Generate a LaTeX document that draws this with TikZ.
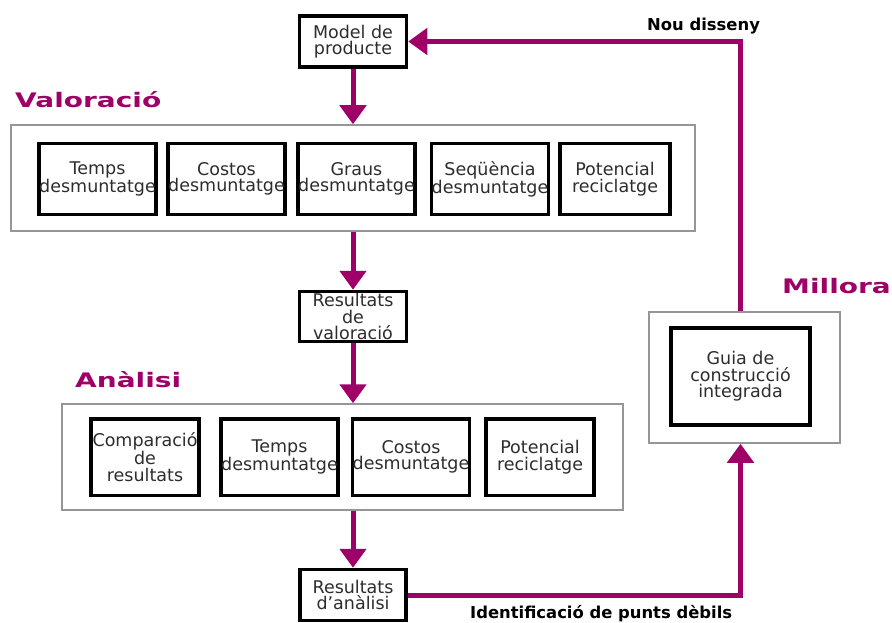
\documentclass[tikz,border=0pt]{standalone}
\usepackage{fontspec}
\setmainfont{DejaVu Sans}
\newfontfamily\headfont[FakeStretch=1.4]{DejaVu Sans Bold}
\usetikzlibrary{arrows.meta}
\definecolor{fucsia}{RGB}{158,0,104}
\definecolor{boxgray}{RGB}{150,150,150}
\definecolor{txtgray}{RGB}{45,45,45}
\tikzset{
  stepbox/.style={draw=black,line width=3.5pt,fill=white,align=center,text=txtgray,
    font=\fontsize{17.5}{16.5}\selectfont,inner sep=0pt},
  groupbox/.style={draw=boxgray,line width=1.5pt,inner sep=0pt},
  flow/.style={draw=fucsia,line width=5pt,-{Triangle[width=26pt,length=19pt]}},
  phase/.style={text=fucsia,font=\headfont\fontsize{20}{20}\selectfont,anchor=base west,inner sep=0pt},
  note/.style={font=\bfseries\fontsize{16.4}{16.4}\selectfont,anchor=base west,inner sep=0pt}
}
\begin{document}
\begin{tikzpicture}[x=1pt,y=-1pt]
\useasboundingbox (0,0) rectangle (892,623);
\node[groupbox,minimum width=684pt,minimum height=106pt] (valbox) at (353,178) {};
\node[groupbox,minimum width=561pt,minimum height=106pt] (anbox) at (342.5,457) {};
\node[groupbox,minimum width=191pt,minimum height=131pt] (millbox) at (744.5,377.5) {};
\node[phase] (valtitle) at (15,108) {Valoració};
\node[phase] (antitle) at (75,387) {Anàlisi};
\node[phase] (milltitle) at (782,293) {Millora};
\node[note] (nou) at (647,31) {Nou disseny};
\node[note] (ident) at (470,618) {Identificació de punts dèbils};
\node[stepbox,minimum width=107pt,minimum height=51pt] (model) at (353,41.5) {Model de\\producte};
\node[stepbox,minimum width=107pt,minimum height=50pt] (resval) at (353,316.5) {Resultats\\de\\valoració};
\node[stepbox,minimum width=106pt,minimum height=51pt] (resan) at (353,595) {Resultats\\d'anàlisi};
\node[stepbox,minimum width=139pt,minimum height=97pt] (guia) at (740.5,376.5) {Guia de\\construcció\\integrada};
\foreach \x/\w/\n/\t in {97.5/111/vtemps/{Temps\\desmuntatge},226.5/113/vcostos/{Costos\\desmuntatge},
    356.5/115/vgraus/{Graus\\desmuntatge},490/112/vseq/{Seqüència\\desmuntatge},615/110/vpot/{Potencial\\reciclatge}}
  \node[stepbox,minimum width=\w pt,minimum height=70.5pt] (\n) at (\x,179) {\t};
\foreach \x/\w/\n/\t in {145/108/acomp/{Comparació\\de\\resultats},279.5/117/atemps/{Temps\\desmuntatge},
    411/114/acostos/{Costos\\desmuntatge},540/108/apot/{Potencial\\reciclatge}}
  \node[stepbox,minimum width=\w pt,minimum height=76.5pt] (\n) at (\x,457) {\t};
\draw[flow] (model) -- (valbox);
\draw[flow] (valbox) -- (resval);
\draw[flow] (resval) -- (resval |- anbox.north);
\draw[flow] (anbox.south -| resan) -- (resan);
\draw[flow] (resan.east) -| (guia.south |- millbox.south);
\draw[flow] (guia.north |- millbox.north) |- (model.east);
\end{tikzpicture}
\end{document}
